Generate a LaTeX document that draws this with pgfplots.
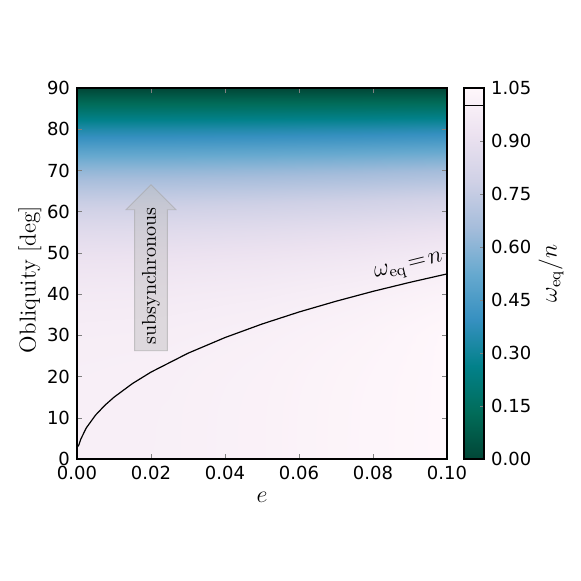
\documentclass[border=0pt]{standalone}
\usepackage{fontspec}
\newfontfamily\dejavu{DejaVu Sans}
\usepackage{pgfplots}
\usepackage{pgfplotstable}
\pgfplotsset{compat=1.18}
\usetikzlibrary{shapes.arrows}

\pgfplotsset{
  colormap={pubugnr}{rgb255=(1,70,54) rgb255=(1,108,89) rgb255=(2,129,138)
    rgb255=(54,144,192) rgb255=(103,169,207) rgb255=(166,189,219)
    rgb255=(208,209,230) rgb255=(236,226,240) rgb255=(255,247,251)}
}

% omega_eq/n on a grid: e = 0 .. 0.1, obliquity = 0 .. 90 deg
\pgfplotstableread{
e o v
0 0 1.0000
0.025 0 1.0038
0.05 0 1.0150
0.075 0 1.0338
0.1 0 1.0601
0 2.5 1.0000
0.025 2.5 1.0038
0.05 2.5 1.0150
0.075 2.5 1.0338
0.1 2.5 1.0601
0 5 1.0000
0.025 5 1.0037
0.05 5 1.0150
0.075 5 1.0338
0.1 5 1.0601
0 7.5 1.0000
0.025 7.5 1.0037
0.05 7.5 1.0150
0.075 7.5 1.0337
0.1 7.5 1.0600
0 10 0.9999
0.025 10 1.0036
0.05 10 1.0149
0.075 10 1.0336
0.1 10 1.0599
0 12.5 0.9997
0.025 12.5 1.0035
0.05 12.5 1.0147
0.075 12.5 1.0335
0.1 12.5 1.0598
0 15 0.9994
0.025 15 1.0031
0.05 15 1.0144
0.075 15 1.0331
0.1 15 1.0594
0 17.5 0.9989
0.025 17.5 1.0026
0.05 17.5 1.0139
0.075 17.5 1.0326
0.1 17.5 1.0589
0 20 0.9981
0.025 20 1.0018
0.05 20 1.0130
0.075 20 1.0318
0.1 20 1.0580
0 22.5 0.9969
0.025 22.5 1.0006
0.05 22.5 1.0118
0.075 22.5 1.0305
0.1 22.5 1.0567
0 25 0.9952
0.025 25 0.9989
0.05 25 1.0101
0.075 25 1.0288
0.1 25 1.0550
0 27.5 0.9929
0.025 27.5 0.9966
0.05 27.5 1.0078
0.075 27.5 1.0264
0.1 27.5 1.0525
0 30 0.9897
0.025 30 0.9935
0.05 30 1.0046
0.075 30 1.0232
0.1 30 1.0492
0 32.5 0.9857
0.025 32.5 0.9894
0.05 32.5 1.0005
0.075 32.5 1.0190
0.1 32.5 1.0449
0 35 0.9804
0.025 35 0.9841
0.05 35 0.9951
0.075 35 1.0135
0.1 35 1.0393
0 37.5 0.9738
0.025 37.5 0.9774
0.05 37.5 0.9884
0.075 37.5 1.0067
0.1 37.5 1.0323
0 40 0.9655
0.025 40 0.9691
0.05 40 0.9800
0.075 40 0.9981
0.1 40 1.0235
0 42.5 0.9553
0.025 42.5 0.9589
0.05 42.5 0.9696
0.075 42.5 0.9875
0.1 42.5 1.0127
0 45 0.9428
0.025 45 0.9463
0.05 45 0.9570
0.075 45 0.9746
0.1 45 0.9994
0 47.5 0.9277
0.025 47.5 0.9312
0.05 47.5 0.9417
0.075 47.5 0.9591
0.1 47.5 0.9835
0 50 0.9097
0.025 50 0.9131
0.05 50 0.9234
0.075 50 0.9404
0.1 50 0.9644
0 52.5 0.8883
0.025 52.5 0.8917
0.05 52.5 0.9016
0.075 52.5 0.9183
0.1 52.5 0.9417
0 55 0.8632
0.025 55 0.8664
0.05 55 0.8761
0.075 55 0.8923
0.1 55 0.9150
0 57.5 0.8339
0.025 57.5 0.8370
0.05 57.5 0.8464
0.075 57.5 0.8620
0.1 57.5 0.8840
0 60 0.8000
0.025 60 0.8030
0.05 60 0.8120
0.075 60 0.8270
0.1 60 0.8481
0 62.5 0.7612
0.025 62.5 0.7641
0.05 62.5 0.7726
0.075 62.5 0.7869
0.1 62.5 0.8069
0 65 0.7172
0.025 65 0.7198
0.05 65 0.7279
0.075 65 0.7414
0.1 65 0.7602
0 67.5 0.6676
0.025 67.5 0.6701
0.05 67.5 0.6776
0.075 67.5 0.6901
0.1 67.5 0.7077
0 70 0.6124
0.025 70 0.6147
0.05 70 0.6216
0.075 70 0.6331
0.1 70 0.6492
0 72.5 0.5515
0.025 72.5 0.5536
0.05 72.5 0.5598
0.075 72.5 0.5702
0.1 72.5 0.5847
0 75 0.4851
0.025 75 0.4870
0.05 75 0.4924
0.075 75 0.5015
0.1 75 0.5143
0 77.5 0.4135
0.025 77.5 0.4151
0.05 77.5 0.4197
0.075 77.5 0.4275
0.1 77.5 0.4383
0 80 0.3371
0.025 80 0.3384
0.05 80 0.3422
0.075 80 0.3485
0.1 80 0.3574
0 82.5 0.2567
0.025 82.5 0.2576
0.05 82.5 0.2605
0.075 82.5 0.2653
0.1 82.5 0.2721
0 85 0.1730
0.025 85 0.1736
0.05 85 0.1756
0.075 85 0.1788
0.1 85 0.1834
0 87.5 0.0871
0.025 87.5 0.0874
0.05 87.5 0.0884
0.075 87.5 0.0900
0.1 87.5 0.0923
0 90 0
0.025 90 0
0.05 90 0
0.075 90 0
0.1 90 0
}\heat

\begin{document}
\begin{tikzpicture}
\begin{axis}[
    scale only axis,
    width=185pt, height=185.5pt,
    xmin=0, xmax=0.1, ymin=0, ymax=90,
    xtick={0,0.02,0.04,0.06,0.08,0.1},
    ytick={0,10,20,30,40,50,60,70,80,90},
    tick align=inside,
    major tick length=2.5pt,
    axis line style={line width=0.6pt},
    axis on top,
    ticklabel style={font=\dejavu\fontsize{9}{10}\selectfont},
    /pgf/number format/assume math mode=true,
    xticklabel style={/pgf/number format/.cd, fixed, fixed zerofill, precision=2},
    xlabel={$e$},
    xlabel style={font=\fontsize{12}{12}\selectfont, at={(rel axis cs:0.5,0)}, anchor=center, yshift=-19.3pt},
    ylabel={Obliquity [deg]},
    % rotated label: yshift moves it to the left, xshift along the text
    ylabel style={font=\fontsize{11.5}{12}\selectfont, at={(rel axis cs:0,0.5)}, anchor=center, yshift=23.5pt, xshift=-3pt},
    colormap name=pubugnr,
    point meta min=0, point meta max=1.05,
    colorbar,
    colorbar style={
        at={([xshift=8.5pt]parent axis.north east)}, anchor=north west, xshift=0pt,
        scale only axis, width=10pt, height=185.5pt,
        ymin=0, ymax=1.05,
        ytick={0,0.15,0.3,0.45,0.6,0.75,0.9,1.05},
        yticklabel pos=right, ytick pos=right,
        tick align=inside, major tick length=2pt,
        axis line style={line width=0.6pt},
        yticklabel style={font=\dejavu\fontsize{9}{10}\selectfont,
            /pgf/number format/.cd, fixed, fixed zerofill, precision=2},
        /pgf/number format/assume math mode=true,
        extra y ticks={1}, extra y tick labels={},
        extra y tick style={grid=major, major grid style={black, line width=0.6pt}, major tick length=0pt},
        ylabel={$\omega_{\mathrm{eq}}/n$},
        ylabel style={font=\fontsize{12}{12}\selectfont, at={(rel axis cs:1,0.5)}, anchor=center, yshift=-33.5pt},
    },
]
\addplot[surf, shader=interp, mesh/cols=5, point meta=explicit]
    table[x=e, y=o, meta=v] {\heat};

% omega_eq = n contour
\addplot[black, line width=0.6pt] coordinates {
    (0,2.8) (0.0005,3.4) (0.001,4.77) (0.0025,7.53) (0.005,10.63)
    (0.0075,13.00) (0.01,14.99) (0.015,18.31) (0.02,21.08) (0.03,25.66)
    (0.04,29.46) (0.05,32.74) (0.06,35.66) (0.07,38.27) (0.08,40.67)
    (0.09,42.86) (0.1,44.90)
};

\node[rotate=14, font=\fontsize{12}{12}\selectfont] at (axis cs:0.0897,46.4) {$\omega_{\mathrm{eq}}\!=\!n$};

\node[single arrow, rotate=90, draw=gray!70, fill=gray!50, fill opacity=0.45,
      draw opacity=0.6, text opacity=1, minimum height=83pt,
      inner xsep=2pt, inner ysep=3.5pt, single arrow head extend=4.25pt,
      font=\fontsize{10}{10}\selectfont]
    at (axis cs:0.02,44.4) {subsynchronous};
\end{axis}
\pgfresetboundingbox
\path (-38.5pt,-61pt) rectangle (252pt,229.5pt);
\end{tikzpicture}
\end{document}
